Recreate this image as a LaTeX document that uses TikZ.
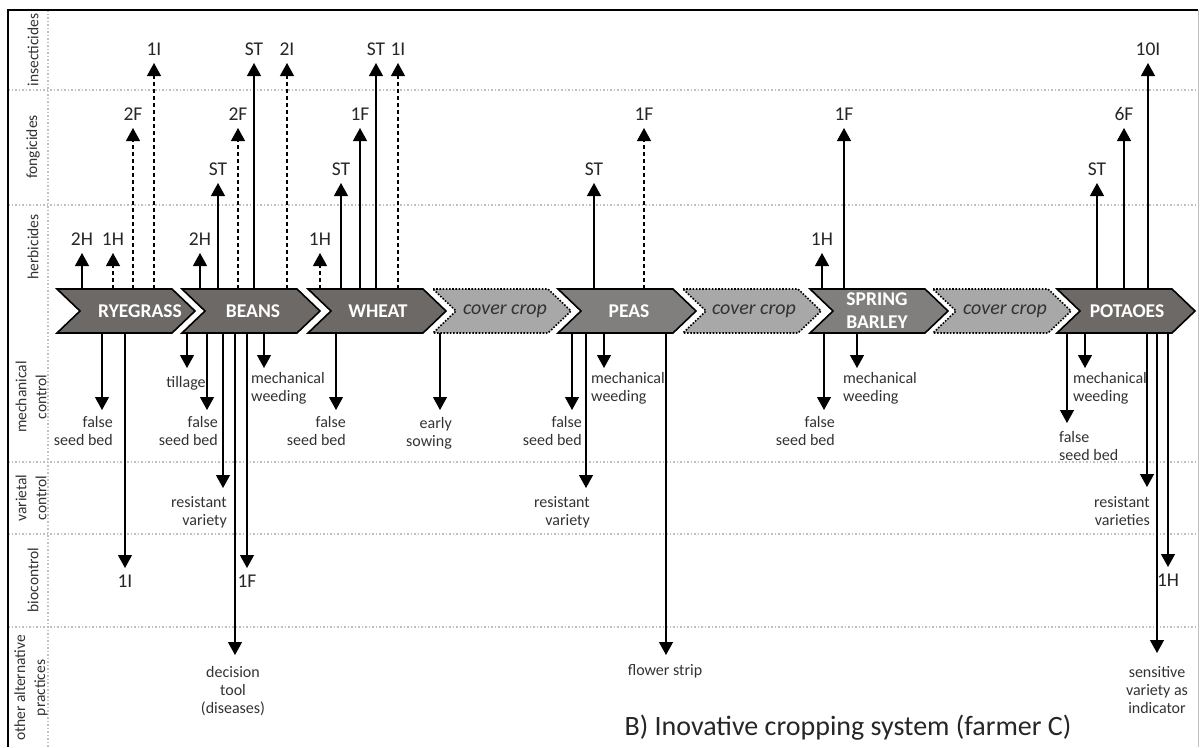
\documentclass[tikz,border=0pt]{standalone}
\usepackage{fontspec}
\setmainfont{Carlito}
\usetikzlibrary{
  arrows.meta,
  calc
}
\definecolor{cropdark}{RGB}{109,105,103}
\definecolor{cropmid}{RGB}{128,127,126}
\definecolor{covergray}{RGB}{168,168,168}
\definecolor{gridgray}{RGB}{192,192,192}
\definecolor{textgray}{RGB}{50,50,50}
\tikzset{
  % For the dotted lines between the rows.
  grid line/.style={
    draw=gridgray,
    line width=1.5pt,
    dash pattern=on 1.5pt off 2pt},
%
  % For main crops.
  crop/.style={
    fill=cropdark,
    draw=black,
    line width=1.6pt,
    line join=miter},
  light crop/.style={
    crop,
    fill=cropmid},
%
  % For cover crops between main crops.
  cover/.style={
    fill=covergray,
    draw=black,
    line width=1.6pt,
    dash pattern=on 1.6pt off 1.6pt,
    preaction={draw=white, line width=1.6pt, solid}},
%
  % For treatments and practices.
  up arrow/.style={
    -{Triangle[width=14pt,length=13pt]},
    line width=1.2pt},
  dashed arrow/.style={
    up arrow,
    dash pattern=on 4pt off 3pt},
  down arrow/.style={
    up arrow},
%
  % For texts.
  number/.style={
    font=\fontsize{19.5}{22}\selectfont,
    text=black!85,
    inner xsep=1pt,
    inner ysep=7pt},
  note/.style={
    font=\fontsize{16}{18}\selectfont,
    text=textgray,
    inner sep=0pt},
  crop name/.style={
    font=\bfseries\fontsize{19.5}{23}\selectfont,
    text=white,
    align=center,
    minimum height=44pt,
    inner sep=0pt},
  cover name/.style={
    font=\itshape\fontsize{20}{23}\selectfont,
    text=textgray,
    minimum height=44pt,
    inner sep=0pt},
  row name/.style={
    font=\fontsize{15.5}{20}\selectfont,
    text=textgray,
    rotate=90,
    align=center},
  caption/.style={
    font=\fontsize{28}{32}\selectfont,
    text=black!85},
}

\begin{document}
\begin{tikzpicture}[x=1pt, y=-1pt]
  \useasboundingbox (0,0) rectangle (1201,747);

  % Rows.
  \draw[grid line] (8,90) -- (1197,90);
  \draw[grid line] (8,205) -- (1197,205);
  \draw[grid line] (8,462) -- (1197,462);
  \draw[grid line] (8,534) -- (1197,534);
  \draw[grid line] (8,627) -- (1197,627);
  \draw[grid line] (48,10) -- (48,747);
  \draw[line width=1.8pt] (8,747) -- (8,10) -- (1198,10);
  \draw[line width=1pt, gridgray] (1198,10) -- (1198,747);

  \node[row name] (insecticides) at (33,50) {insecticides};
  \node[row name] (fongicides) at (33,147) {fongicides};
  \node[row name] (herbicides) at (33,247) {herbicides};
  \node[row name] (mechanical) at (31,397) {mechanical\\control};
  \node[row name] (varietal) at (31,498) {varietal\\control};
  \node[row name] (biocontrol) at (33,580) {biocontrol};
  \node[row name] (other) at (31,688) {other alternative\\practices};

  % Crop sequence.
  \draw[crop] (57,289) -- ++(115,0) -- ++(23,22) -- ++(-23,22) -- ++(-115,0) -- ++(23,-22) -- cycle;
  \draw[crop] (182,289) -- ++(115,0) -- ++(23,22) -- ++(-23,22) -- ++(-115,0) -- ++(23,-22) -- cycle;
  \draw[crop] (308,289) -- ++(115,0) -- ++(23,22) -- ++(-23,22) -- ++(-115,0) -- ++(23,-22) -- cycle;
  \draw[cover] (433,289) -- ++(115,0) -- ++(23,22) -- ++(-23,22) -- ++(-115,0) -- ++(23,-22) -- cycle;
  \draw[light crop] (558,289) -- ++(115,0) -- ++(23,22) -- ++(-23,22) -- ++(-115,0) -- ++(23,-22) -- cycle;
  \draw[cover] (683,289) -- ++(115,0) -- ++(23,22) -- ++(-23,22) -- ++(-115,0) -- ++(23,-22) -- cycle;
  \draw[light crop] (810,289) -- ++(115,0) -- ++(23,22) -- ++(-23,22) -- ++(-115,0) -- ++(23,-22) -- cycle;
  \draw[cover] (933,289) -- ++(115,0) -- ++(23,22) -- ++(-23,22) -- ++(-115,0) -- ++(23,-22) -- cycle;
  \draw[crop] (1057,289) -- ++(115,0) -- ++(23,22) -- ++(-23,22) -- ++(-115,0) -- ++(23,-22) -- cycle;

  \node[crop name] (rye) at (140,311) {RYEGRASS};
  \node[crop name] (beans) at (253,311) {BEANS};
  \node[crop name] (wheat) at (378,311) {WHEAT};
  \node[cover name] (coverA) at (505,311) {cover crop};
  \node[crop name] (peas) at (629,311) {PEAS};
  \node[cover name] (coverB) at (754,311) {cover crop};
  \node[crop name] (barley) at (877,311) {SPRING\\BARLEY};
  \node[cover name] (coverC) at (1005,311) {cover crop};
  \node[crop name] (potatoes) at (1127,311) {POTAOES};

  % Pesticides, upwards.
  \node[number, anchor=south] (rye h2) at (82,253) {2H};
  \node[number, anchor=south] (rye h1) at (113,253) {1H};
  \node[number, anchor=south] (rye f2) at (133,128) {2F};
  \node[number, anchor=south] (rye i1) at (154,63) {1I};
  \draw[up arrow] (rye h2 |- rye.north) -- (rye h2.south);
  \draw[dashed arrow] (rye h1 |- rye.north) -- (rye h1.south);
  \draw[dashed arrow] (rye f2 |- rye.north) -- (rye f2.south);
  \draw[dashed arrow] (rye i1 |- rye.north) -- (rye i1.south);

  \node[number, anchor=south] (beans h2) at (200,253) {2H};
  \node[number, anchor=south] (beans st1) at (218,183) {ST};
  \node[number, anchor=south] (beans f2) at (238,128) {2F};
  \node[number, anchor=south] (beans st2) at (254,63) {ST};
  \node[number, anchor=south] (beans i2) at (287,63) {2I};
  \draw[up arrow] (beans h2 |- beans.north) -- (beans h2.south);
  \draw[up arrow] (beans st1 |- beans.north) -- (beans st1.south);
  \draw[dashed arrow] (beans f2 |- beans.north) -- (beans f2.south);
  \draw[up arrow] (beans st2 |- beans.north) -- (beans st2.south);
  \draw[dashed arrow] (beans i2 |- beans.north) -- (beans i2.south);

  \node[number, anchor=south] (wheat h1) at (320,253) {1H};
  \node[number, anchor=south] (wheat st1) at (341,183) {ST};
  \node[number, anchor=south] (wheat f1) at (360,128) {1F};
  \node[number, anchor=south] (wheat st2) at (376,63) {ST};
  \node[number, anchor=south] (wheat i1) at (398,63) {1I};
  \draw[dashed arrow] (wheat h1 |- wheat.north) -- (wheat h1.south);
  \draw[up arrow] (wheat st1 |- wheat.north) -- (wheat st1.south);
  \draw[up arrow] (wheat f1 |- wheat.north) -- (wheat f1.south);
  \draw[up arrow] (wheat st2 |- wheat.north) -- (wheat st2.south);
  \draw[dashed arrow] (wheat i1 |- wheat.north) -- (wheat i1.south);

  \node[number, anchor=south] (peas st) at (594,183) {ST};
  \node[number, anchor=south] (peas f1) at (644,128) {1F};
  \draw[up arrow] (peas st |- peas.north) -- (peas st.south);
  \draw[dashed arrow] (peas f1 |- peas.north) -- (peas f1.south);

  \node[number, anchor=south] (barley h1) at (822,253) {1H};
  \node[number, anchor=south] (barley f1) at (844,128) {1F};
  \draw[up arrow] (barley h1 |- barley.north) -- (barley h1.south);
  \draw[up arrow] (barley f1 |- barley.north) -- (barley f1.south);

  \node[number, anchor=south] (pot st) at (1097,183) {ST};
  \node[number, anchor=south] (pot f6) at (1124,128) {6F};
  \node[number, anchor=south] (pot i10) at (1148,63) {10I};
  \draw[up arrow] (pot st |- potatoes.north) -- (pot st.south);
  \draw[up arrow] (pot f6 |- potatoes.north) -- (pot f6.south);
  \draw[up arrow] (pot i10 |- potatoes.north) -- (pot i10.south);

  % Alternative practices, downwards.
  \coordinate (rye bed) at (102,410);
  \node[note, align=right, anchor=north east] (rye bed text) at (113,416) {false\\seed bed};
  \draw[down arrow] (rye bed |- rye.south) -- (rye bed);
  \node[number, anchor=north] (rye bio) at (125,568) {1I};
  \draw[down arrow] (rye bio |- rye.south) -- (rye bio.north);

  \coordinate (beans till) at (187,368);
  \node[note, anchor=north] (beans till text) at (186,376) {tillage};
  \draw[down arrow] (beans till |- beans.south) -- (beans till);
  \coordinate (beans bed) at (207,410);
  \node[note, align=right, anchor=north east] (beans bed text) at (218,416) {false\\seed bed};
  \draw[down arrow] (beans bed |- beans.south) -- (beans bed);
  \coordinate (beans var) at (223,488);
  \node[note, align=right, anchor=north east] (beans var text) at (227,496) {resistant\\variety};
  \draw[down arrow] (beans var |- beans.south) -- (beans var);
  \coordinate (beans tool) at (235,655);
  \node[note, align=center, anchor=north] (beans tool text) at (233,666) {decision\\tool\\(diseases)};
  \draw[down arrow] (beans tool |- beans.south) -- (beans tool);
  \node[number, anchor=north] (beans bio) at (247,568) {1F};
  \draw[down arrow] (beans bio |- beans.south) -- (beans bio.north);
  \coordinate (beans weed) at (264,368);
  \node[note, align=left, anchor=north west] (beans weed text) at (251,372) {mechanical\\weeding};
  \draw[down arrow] (beans weed |- beans.south) -- (beans weed);

  \coordinate (wheat bed) at (336,410);
  \node[note, align=right, anchor=north east] (wheat bed text) at (346,416) {false\\seed bed};
  \draw[down arrow] (wheat bed |- wheat.south) -- (wheat bed);

  \coordinate (cover sow) at (440,410);
  \node[note, align=right, anchor=north east] (cover sow text) at (452,417) {early\\sowing};
  \draw[down arrow] (cover sow |- coverA.south) -- (cover sow);

  \coordinate (peas bed) at (572,410);
  \node[note, align=right, anchor=north east] (peas bed text) at (582,416) {false\\seed bed};
  \draw[down arrow] (peas bed |- peas.south) -- (peas bed);
  \coordinate (peas var) at (586,488);
  \node[note, align=right, anchor=north east] (peas var text) at (590,496) {resistant\\variety};
  \draw[down arrow] (peas var |- peas.south) -- (peas var);
  \coordinate (peas weed) at (604,368);
  \node[note, align=left, anchor=north west] (peas weed text) at (591,372) {mechanical\\weeding};
  \draw[down arrow] (peas weed |- peas.south) -- (peas weed);
  \coordinate (peas strip) at (666,655);
  \node[note, anchor=north] (peas strip text) at (665,664) {flower strip};
  \draw[down arrow] (peas strip |- peas.south) -- (peas strip);

  \coordinate (barley bed) at (824,410);
  \node[note, align=right, anchor=north east] (barley bed text) at (835,416) {false\\seed bed};
  \draw[down arrow] (barley bed |- barley.south) -- (barley bed);
  \coordinate (barley weed) at (857,368);
  \node[note, align=left, anchor=north west] (barley weed text) at (843,372) {mechanical\\weeding};
  \draw[down arrow] (barley weed |- barley.south) -- (barley weed);

  \coordinate (pot bed) at (1067,423);
  \node[note, align=left, anchor=north west] (pot bed text) at (1059,431) {false\\seed bed};
  \draw[down arrow] (pot bed |- potatoes.south) -- (pot bed);
  \coordinate (pot weed) at (1085,368);
  \node[note, align=left, anchor=north west] (pot weed text) at (1073,372) {mechanical\\weeding};
  \draw[down arrow] (pot weed |- potatoes.south) -- (pot weed);
  \coordinate (pot var) at (1147,487);
  \node[note, align=right, anchor=north east] (pot var text) at (1150,496) {resistant\\varieties};
  \draw[down arrow] (pot var |- potatoes.south) -- (pot var);
  \coordinate (pot ind) at (1157,653);
  \node[note, align=center, anchor=north] (pot ind text) at (1157,666) {sensitive\\variety as\\indicator};
  \draw[down arrow] (pot ind |- potatoes.south) -- (pot ind);
  \node[number, anchor=north] (pot bio) at (1168,567) {1H};
  \draw[down arrow] (pot bio |- potatoes.south) -- (pot bio.north);

  \node[caption, anchor=base] (caption) at (848,735) {B) Inovative cropping system (farmer C)};
\end{tikzpicture}
\end{document}
